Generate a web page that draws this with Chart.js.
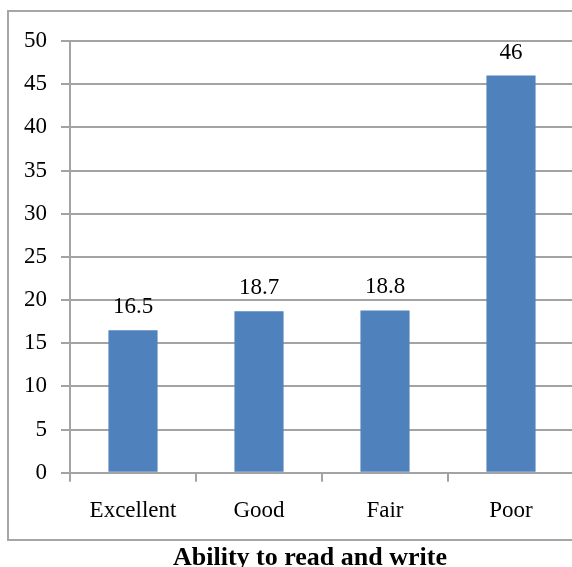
<!DOCTYPE html>
<html>
<head>
<meta charset="utf-8">
<script src="https://cdn.jsdelivr.net/npm/chart.js@4/dist/chart.umd.min.js"></script>
<style>
  html, body { margin: 0; padding: 0; background: #fff; overflow: hidden; }
  #wrap { width: 620px; height: 580px; position: relative; }
</style>
</head>
<body>
<div id="wrap"><canvas id="c" width="620" height="580"></canvas></div>
<script>
const categories = ["Excellent", "Good", "Fair", "Poor"];
const values = [16.5, 18.7, 18.8, 46];
const valueLabels = ["16.5", "18.7", "18.8", "46"];
const axisTitle = "Ability to read and write";
const yMin = 0, yMax = 50, yStep = 5;

const SERIF = '"Liberation Serif", "Times New Roman", serif';
const GRID = '#a3a3a3';

const frame = {
  id: 'frame',
  beforeDraw(chart) {
    const ctx = chart.ctx;
    ctx.save();
    ctx.strokeStyle = '#a6a6a6';
    ctx.lineWidth = 2;
    ctx.strokeRect(8, 11, 604, 529);
    ctx.restore();
  }
};

// centre the bottom title over the whole (wider) frame rather than the padded box
const titleSpan = {
  id: 'titleSpan',
  afterLayout(chart) {
    if (chart.titleBlock) {
      chart.titleBlock.left = 0;
      chart.titleBlock.right = chart.width;
      chart.titleBlock.width = chart.width;
    }
  }
};

const valueLabelPlugin = {
  id: 'valueLabels',
  afterDatasetsDraw(chart) {
    const ctx = chart.ctx;
    const meta = chart.getDatasetMeta(0);
    ctx.save();
    ctx.font = '23px ' + SERIF;
    ctx.fillStyle = '#000';
    ctx.textAlign = 'center';
    ctx.textBaseline = 'alphabetic';
    meta.data.forEach((bar, i) => {
      ctx.fillText(valueLabels[i], bar.x, bar.y - 17);
    });
    ctx.restore();
  }
};

new Chart(document.getElementById('c'), {
  type: 'bar',
  data: {
    labels: categories,
    datasets: [{
      data: values,
      backgroundColor: '#4f81bd',
      borderWidth: 0,
      categoryPercentage: 1,
      barPercentage: 0.39
    }]
  },
  options: {
    responsive: false,
    animation: false,
    layout: { padding: { left: 0, top: 41, right: 46, bottom: 0 } },
    plugins: {
      legend: { display: false },
      tooltip: { enabled: false },
      title: {
        display: true,
        position: 'bottom',
        text: axisTitle,
        color: '#000',
        font: { family: SERIF, size: 26, weight: 'bold', lineHeight: 1.2 },
        padding: { top: 0, bottom: 6 }
      }
    },
    scales: {
      x: {
        afterFit(scale) { scale.height = 70; },
        grid: {
          drawOnChartArea: false,
          drawTicks: true,
          tickLength: 9,
          color: GRID,
          lineWidth: 2
        },
        border: { color: GRID, width: 2 },
        ticks: {
          color: '#000',
          font: { family: SERIF, size: 23 },
          padding: 15
        }
      },
      y: {
        min: yMin,
        max: yMax,
        afterFit(scale) { scale.width = 70; },
        grid: {
          color: GRID,
          lineWidth: 2,
          drawTicks: true,
          tickLength: 9
        },
        border: { color: GRID, width: 2 },
        ticks: {
          stepSize: yStep,
          color: '#000',
          font: { family: SERIF, size: 23 },
          padding: 14
        }
      }
    }
  },
  plugins: [frame, titleSpan, valueLabelPlugin]
});
</script>
</body>
</html>
